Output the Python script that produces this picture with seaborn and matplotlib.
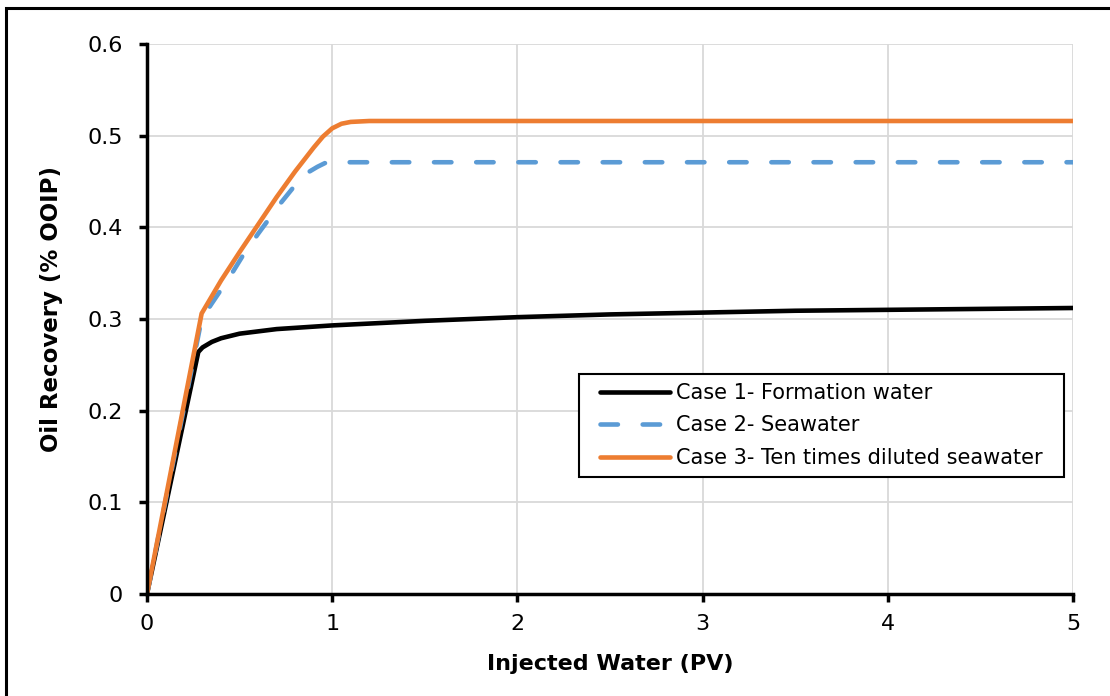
import matplotlib
matplotlib.use("Agg")
import matplotlib.pyplot as plt
import seaborn as sns
import pandas as pd
from matplotlib.patches import Rectangle
from matplotlib.path import Path

# Data
case1_x = [0, 0.277, 0.3, 0.35, 0.4, 0.5, 0.7, 1.0, 1.5, 2.0, 2.5, 3.0, 3.5, 4.0, 4.5, 5.0]
case1_y = [0, 0.264, 0.269, 0.275, 0.279, 0.284, 0.289, 0.293, 0.298, 0.302, 0.305, 0.307, 0.309, 0.310, 0.311, 0.312]

case2_x = [0, 0.295, 0.35, 0.45, 0.52, 0.6, 0.72, 0.8, 0.87, 0.92, 0.96, 1.0, 1.5, 2.0, 3.0, 4.0, 5.0]
case2_y = [0, 0.300, 0.317, 0.347, 0.370, 0.393, 0.426, 0.446, 0.460, 0.466, 0.470, 0.471, 0.471, 0.471, 0.471, 0.471, 0.471]

case3_x = [0, 0.295, 0.4, 0.5, 0.6, 0.7, 0.8, 0.9, 0.95, 1.0, 1.05, 1.1, 1.2, 1.5, 2.0, 3.0, 4.0, 5.0]
case3_y = [0, 0.306, 0.342, 0.373, 0.403, 0.433, 0.461, 0.487, 0.499, 0.508, 0.513, 0.515, 0.516, 0.516, 0.516, 0.516, 0.516, 0.516]

labels = ["Case 1- Formation water", "Case 2- Seawater", "Case 3- Ten times diluted seawater"]
x_ticks = [0, 1, 2, 3, 4, 5]
y_ticks = [0, 0.1, 0.2, 0.3, 0.4, 0.5, 0.6]
y_tick_labels = ["0", "0.1", "0.2", "0.3", "0.4", "0.5", "0.6"]

sns.set_style("white")
plt.rcParams["font.family"] = ["DejaVu Sans"]
plt.rcParams["text.color"] = "black"
plt.rcParams["axes.labelcolor"] = "black"
plt.rcParams["xtick.color"] = "black"
plt.rcParams["ytick.color"] = "black"

fig = plt.figure(figsize=(11.1, 6.96), dpi=100)
ax = fig.add_axes([147 / 1110, 1 - 594 / 696, 926 / 1110, 550 / 696])

series = [
    (case1_x, case1_y, labels[0], "#000000", None),
    (case2_x, case2_y, labels[1], "#5B9BD5", (3.8, 5.4)),
    (case3_x, case3_y, labels[2], "#ED7D31", None),
]
for xs, ys, lab, col, dash in series:
    df = pd.DataFrame({"x": xs, "y": ys})
    sns.lineplot(data=df, x="x", y="y", color=col, linewidth=3.3, label=lab, ax=ax,
                 solid_capstyle="round", dash_capstyle="round")
    if dash is not None:
        ax.get_lines()[-1].set_dashes(dash)

ax.set_xlim(0, 5)
ax.set_ylim(0, 0.6)
ax.set_xticks(x_ticks)
ax.set_xticklabels([str(t) for t in x_ticks])
ax.set_yticks(y_ticks)
ax.set_yticklabels(y_tick_labels)

ax.grid(True, color="#d9d9d9", linewidth=1.3)
ax.set_axisbelow(True)
for s in ["top", "right"]:
    ax.spines[s].set_visible(False)
for s in ["left", "bottom"]:
    ax.spines[s].set_color("black")
    ax.spines[s].set_linewidth(2.5)

ax.tick_params(axis="both", which="major", direction="out", length=6, width=2.5,
               color="black", labelcolor="black", labelsize=16, left=True, bottom=True)
ax.tick_params(axis="x", pad=8.5)
ax.tick_params(axis="y", pad=11.5)

ax.set_xlabel("Injected Water (PV)", fontsize=16, fontweight="bold", color="black")
ax.set_ylabel("Oil Recovery (% OOIP)", fontsize=16.5, fontweight="bold", color="black")
ax.xaxis.label.set_va("center")
ax.yaxis.label.set_va("center")
ax.xaxis.set_label_coords(0.5, (594 - 664) / 550)
ax.yaxis.set_label_coords((52 - 147) / 926, 0.518)

EXTRA_H = 12  # extra horizontal padding in pixels for the legend frame


def wide_box(x0, y0, width, height, mutation_size):
    x0 -= EXTRA_H
    width += 2 * EXTRA_H
    return Path.unit_rectangle().transformed(
        matplotlib.transforms.Affine2D().scale(width, height).translate(x0, y0))


leg = ax.legend(loc="upper right", bbox_to_anchor=((1064 - EXTRA_H - 147) / 926, 0.4),
                fontsize=15, frameon=True, fancybox=False, edgecolor="black",
                handlelength=3.35, borderpad=0.43, labelspacing=0.6,
                handletextpad=0.3, borderaxespad=0)
leg.get_frame().set_linewidth(1.5)
leg.get_frame().set_facecolor("white")
leg.get_frame().set_alpha(1)
leg.get_frame().set_boxstyle(wide_box)
for t in leg.get_texts():
    t.set_color("black")

fig.add_artist(Rectangle((6 / 1110, -0.1), 2.0, (696 - 8) / 696 + 0.1,
                         transform=fig.transFigure, fill=False,
                         edgecolor="black", linewidth=2.2, clip_on=False))

fig.savefig("out.png", dpi=100)
